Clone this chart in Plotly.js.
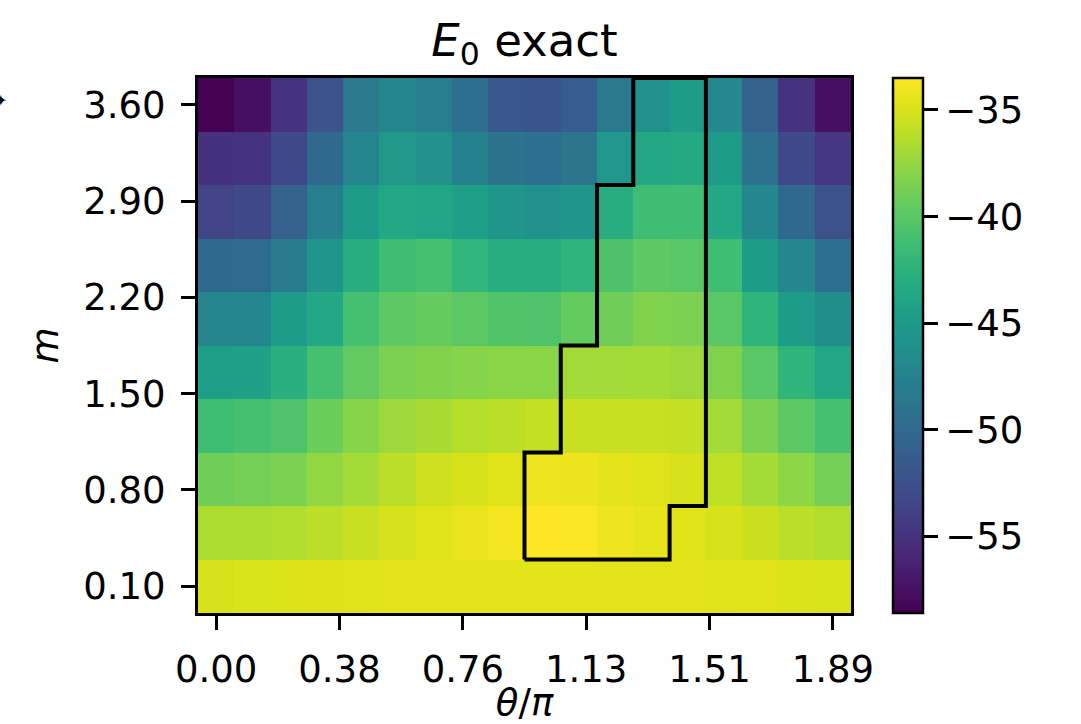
<!DOCTYPE html>
<html>
<head>
<meta charset="utf-8">
<script src="https://cdn.plot.ly/plotly-3.0.1.min.js"></script>
<style>html,body{margin:0;padding:0;background:#fff;}#chart{width:1081px;height:724px;}</style>
</head>
<body>
<div id="chart"></div>
<script>
// theta / pi (column centres)
const thetaOverPi = [0.0000, 0.1111, 0.2222, 0.3333, 0.4444, 0.5556, 0.6667, 0.7778, 0.8889,
                     1.0000, 1.1111, 1.2222, 1.3333, 1.4444, 1.5556, 1.6667, 1.7778, 1.8889];
// m (row centres, bottom to top)
const mValues = [0.1000, 0.4889, 0.8778, 1.2667, 1.6556, 2.0444, 2.4333, 2.8222, 3.2111, 3.6000];

// E0 exact, one array per m row (bottom to top), 18 theta columns each
const E0_m010 = [-35.0,-34.9,-34.85,-34.8,-34.7,-34.65,-34.6,-34.6,-34.55,-34.55,-34.55,-34.6,-34.6,-34.65,-34.7,-34.75,-34.85,-34.95];
const E0_m049 = [-36.6,-36.6,-36.5,-36.1,-35.6,-35.1,-34.7,-34.3,-33.8,-33.5,-33.6,-34.1,-34.4,-34.7,-35.0,-35.5,-36.1,-36.5];
const E0_m088 = [-39.0,-38.8,-38.5,-37.6,-36.9,-36.1,-35.4,-35.0,-34.7,-34.1,-34.2,-34.5,-34.7,-35.0,-36.0,-36.9,-37.8,-38.8];
const E0_m127 = [-41.3,-41.0,-40.5,-39.2,-38.0,-37.2,-36.8,-36.3,-36.1,-35.8,-35.6,-35.6,-35.6,-35.8,-37.0,-38.5,-39.9,-41.0];
const E0_m166 = [-44.5,-44.3,-42.8,-41.0,-39.6,-38.5,-38.3,-38.1,-37.9,-37.9,-37.0,-37.0,-36.9,-37.2,-38.3,-40.0,-42.3,-43.6];
const E0_m204 = [-47.3,-47.2,-44.8,-43.5,-41.0,-39.8,-39.5,-39.9,-40.4,-40.5,-39.5,-39.0,-38.3,-38.5,-40.0,-42.3,-44.8,-46.3];
const E0_m243 = [-50.1,-49.9,-48.1,-45.5,-43.0,-41.3,-41.0,-42.2,-43.0,-43.0,-42.3,-40.6,-39.8,-40.0,-41.3,-44.8,-47.0,-49.6];
const E0_m282 = [-53.6,-53.1,-50.8,-47.8,-44.8,-43.5,-43.8,-44.5,-45.5,-46.0,-45.5,-43.0,-41.3,-41.3,-43.5,-47.0,-50.1,-52.3];
const E0_m321 = [-55.1,-54.9,-53.1,-50.1,-47.3,-45.3,-46.0,-47.6,-49.1,-49.6,-48.8,-45.4,-43.5,-43.3,-45.0,-49.3,-53.1,-54.6];
const E0_m360 = [-58.6,-57.6,-54.9,-52.3,-48.6,-47.3,-48.0,-49.6,-51.8,-52.0,-51.3,-48.6,-46.0,-44.9,-46.8,-50.8,-54.9,-57.6];

// highlighted region (1 = inside outlined region), rows bottom to top
const region_m010 = [0,0,0,0,0,0,0,0,0,0,0,0,0,0,0,0,0,0];
const region_m049 = [0,0,0,0,0,0,0,0,0,1,1,1,1,0,0,0,0,0];
const region_m088 = [0,0,0,0,0,0,0,0,0,1,1,1,1,1,0,0,0,0];
const region_m127 = [0,0,0,0,0,0,0,0,0,0,1,1,1,1,0,0,0,0];
const region_m166 = [0,0,0,0,0,0,0,0,0,0,1,1,1,1,0,0,0,0];
const region_m204 = [0,0,0,0,0,0,0,0,0,0,0,1,1,1,0,0,0,0];
const region_m243 = [0,0,0,0,0,0,0,0,0,0,0,1,1,1,0,0,0,0];
const region_m282 = [0,0,0,0,0,0,0,0,0,0,0,1,1,1,0,0,0,0];
const region_m321 = [0,0,0,0,0,0,0,0,0,0,0,0,1,1,0,0,0,0];
const region_m360 = [0,0,0,0,0,0,0,0,0,0,0,0,1,1,0,0,0,0];

const xTickText = ["0.00", "0.38", "0.76", "1.13", "1.51", "1.89"];
const yTickText = ["0.10", "0.80", "1.50", "2.20", "2.90", "3.60"];
const cbarTicks = [-35, -40, -45, -50, -55];

const z = [E0_m010, E0_m049, E0_m088, E0_m127, E0_m166, E0_m204, E0_m243, E0_m282, E0_m321, E0_m360];
const mask = [region_m010, region_m049, region_m088, region_m127, region_m166, region_m204, region_m243, region_m282, region_m321, region_m360];

// cell edges from centres
function edges(c) {
  const e = [];
  const n = c.length;
  e.push(c[0] - (c[1] - c[0]) / 2);
  for (let i = 0; i < n - 1; i++) e.push((c[i] + c[i + 1]) / 2);
  e.push(c[n - 1] + (c[n - 1] - c[n - 2]) / 2);
  return e;
}
const xe = edges(thetaOverPi), ye = edges(mValues);
function lin(a, b, n) { const r = []; for (let i = 0; i < n; i++) r.push(a + (b - a) * i / (n - 1)); return r; }
const xTickVals = lin(thetaOverPi[0], thetaOverPi[thetaOverPi.length - 1], xTickText.length);
const yTickVals = lin(mValues[0], mValues[mValues.length - 1], yTickText.length);

// outline of region: directed edges chained into loops
const nr = mask.length, nc = mask[0].length;
const inM = (r, c) => r >= 0 && r < nr && c >= 0 && c < nc && mask[r][c] === 1;
const segs = [];
for (let r = 0; r < nr; r++) for (let c = 0; c < nc; c++) {
  if (!inM(r, c)) continue;
  if (!inM(r - 1, c)) segs.push([[c, r], [c + 1, r]]);
  if (!inM(r, c + 1)) segs.push([[c + 1, r], [c + 1, r + 1]]);
  if (!inM(r + 1, c)) segs.push([[c + 1, r + 1], [c, r + 1]]);
  if (!inM(r, c - 1)) segs.push([[c, r + 1], [c, r]]);
}
const used = new Array(segs.length).fill(false);
const ox = [], oy = [];
for (let s0 = 0; s0 < segs.length; s0++) {
  if (used[s0]) continue;
  let cur = s0;
  const start = segs[s0][0];
  ox.push(xe[start[0]]); oy.push(ye[start[1]]);
  while (true) {
    used[cur] = true;
    const end = segs[cur][1];
    ox.push(xe[end[0]]); oy.push(ye[end[1]]);
    let nxt = -1;
    for (let k = 0; k < segs.length; k++) {
      if (!used[k] && segs[k][0][0] === end[0] && segs[k][0][1] === end[1]) { nxt = k; break; }
    }
    if (nxt < 0) break;
    cur = nxt;
  }
  ox.push(null); oy.push(null);
}

const viridis = [
  [0.00, '#440154'], [0.05, '#471365'], [0.10, '#482475'], [0.15, '#463480'],
  [0.20, '#414487'], [0.25, '#3b528b'], [0.30, '#355f8d'], [0.35, '#2f6c8e'],
  [0.40, '#2a788e'], [0.45, '#25848e'], [0.50, '#21918c'], [0.55, '#1e9c89'],
  [0.60, '#22a884'], [0.65, '#2fb47c'], [0.70, '#44bf70'], [0.75, '#5ec962'],
  [0.80, '#7ad151'], [0.85, '#9bd93c'], [0.90, '#bddf26'], [0.95, '#dfe318'],
  [1.00, '#fde725']
];

const FONT = 'DejaVu Sans, Liberation Sans, sans-serif';
const plotL = 198, plotR = 851, plotT = 78, plotB = 613;
const W = 1081, H = 724;

const traces = [
  {
    type: 'heatmap',
    x: thetaOverPi, y: mValues, z: z,
    colorscale: viridis,
    zsmooth: false,
    hoverinfo: 'skip',
    colorbar: {
      x: (893 - plotL) / (plotR - plotL), xanchor: 'left', xpad: 0,
      y: 0.5, yanchor: 'middle', ypad: 0,
      len: 1, lenmode: 'fraction',
      thickness: 30, thicknessmode: 'pixels',
      outlinewidth: 2.5, outlinecolor: '#000',
      tickmode: 'array', tickvals: cbarTicks,
      ticks: 'outside', ticklen: 14, tickwidth: 3, tickcolor: '#000',
      tickfont: {family: FONT, size: 37, color: '#000'},
      tickprefix: ' '
    }
  },
  {
    type: 'scatter', mode: 'lines', x: ox, y: oy,
    line: {color: '#000', width: 4},
    hoverinfo: 'skip', showlegend: false
  }
];

const layout = {
  width: W, height: H,
  margin: {l: plotL, r: W - plotR, t: plotT, b: H - plotB, pad: 0},
  paper_bgcolor: '#fff', plot_bgcolor: '#fff',
  font: {family: FONT, color: '#000'},
  showlegend: false,
  title: {
    text: '<i>E</i><sub>0</sub> exact',
    font: {family: FONT, size: 45, color: '#000'},
    xref: 'paper', x: 0.5, xanchor: 'center',
    yref: 'container', y: 1 - 40 / H, yanchor: 'middle'
  },
  xaxis: {
    range: [xe[0], xe[xe.length - 1]],
    tickmode: 'array', tickvals: xTickVals, ticktext: xTickText,
    ticks: 'outside', ticklen: 14, tickwidth: 3, tickcolor: '#000',
    ticklabelstandoff: 8,
    tickfont: {family: FONT, size: 37, color: '#000'},
    showline: true, linewidth: 3, linecolor: '#000', mirror: true,
    showgrid: false, zeroline: false,
    title: {text: '<i>θ</i>/<i>π</i>', font: {family: FONT, size: 37, color: '#000'}, standoff: 14}
  },
  yaxis: {
    range: [ye[0], ye[ye.length - 1]],
    tickmode: 'array', tickvals: yTickVals, ticktext: yTickText,
    ticks: 'outside', ticklen: 14, tickwidth: 3, tickcolor: '#000',
    ticklabelstandoff: 8,
    tickfont: {family: FONT, size: 37, color: '#000'},
    showline: true, linewidth: 3, linecolor: '#000', mirror: true,
    showgrid: false, zeroline: false,
    title: {text: '<i>m</i>', font: {family: FONT, size: 37, color: '#000'}, standoff: 14}
  },
  annotations: [{
    text: '✦', showarrow: false,
    xref: 'paper', yref: 'paper',
    x: (0 - plotL) / (plotR - plotL), y: (plotB - 101) / (plotB - plotT),
    xanchor: 'center', yanchor: 'middle',
    font: {family: FONT, size: 16, color: '#000'}
  }]
};

Plotly.newPlot('chart', traces, layout, {displayModeBar: false, staticPlot: true});
</script>
</body>
</html>
